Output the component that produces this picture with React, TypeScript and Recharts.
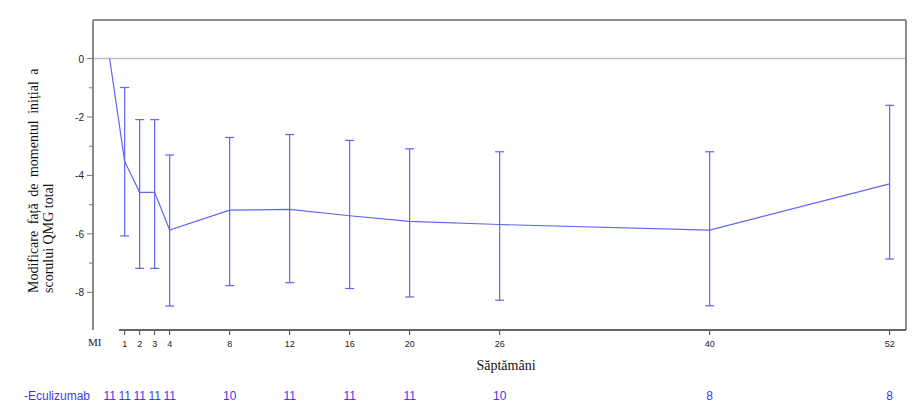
import { ComposedChart, Line, Scatter, ErrorBar, XAxis, YAxis, ReferenceLine } from "recharts"

const weeks = [0, 1, 2, 3, 4, 8, 12, 16, 20, 26, 40, 52]
const meanChange = [0, -3.52, -4.58, -4.58, -5.87, -5.19, -5.16, -5.38, -5.57, -5.68, -5.87, -4.29]
const lowerCI = [null, -6.07, -7.18, -7.18, -8.47, -7.77, -7.67, -7.87, -8.16, -8.27, -8.46, -6.86]
const upperCI = [null, -0.99, -2.09, -2.09, -3.3, -2.7, -2.6, -2.8, -3.09, -3.19, -3.19, -1.6]
const patientCounts = [11, 11, 11, 11, 11, 10, 11, 11, 11, 10, 8, 8]

const xTicks = [-1, 0, 1, 2, 3, 4, 8, 12, 16, 20, 26, 40, 52]
const yTicks = [1, 0, -1, -2, -3, -4, -5, -6, -7, -8, -9]
const yLabeled = [0, -2, -4, -6, -8]

const X_MIN = -1.11
const X_MAX = 53.09
const Y_MIN = -9.29
const Y_MAX = 1.32

const BLUE = "#6464f0"
const TEXT_BLUE = "#3a3af0"

const lineData = weeks.map((w, i) => ({ week: w, mean: meanChange[i] }))

const barData = weeks
  .map((w, i) => ({
    week: w,
    mean: meanChange[i],
    err: lowerCI[i] == null ? null : [meanChange[i] - (lowerCI[i] as number), (upperCI[i] as number) - meanChange[i]],
  }))
  .filter((d) => d.err != null)

function WeekTick(props: any) {
  const { x, y, payload } = props
  const v = payload.value
  const idx = weeks.indexOf(v)
  const count = idx >= 0 ? patientCounts[idx] : null
  return (
    <g>
      {v === -1 && (
        <text x={x} y={y + 16} textAnchor="middle" fontFamily="Liberation Serif, serif" fontSize={11} fill="#222">
          MI
        </text>
      )}
      {v > 0 && (
        <g>
          <line x1={x} y1={y + 1} x2={x} y2={y + 5} stroke="#444" />
          <text x={x} y={y + 17} textAnchor="middle" fontFamily="Liberation Sans, Arial, sans-serif" fontSize={9} fill="#222">
            {v}
          </text>
        </g>
      )}
      {count != null && (
        <text x={x} y={y + 70} textAnchor="middle" fontFamily="Liberation Sans, Arial, sans-serif" fontSize={12} fill={TEXT_BLUE}>
          {count}
        </text>
      )}
    </g>
  )
}

function ValueTick(props: any) {
  const { x, y, payload } = props
  const v = payload.value
  if (v > 0.5 || v < -8.5) return null
  const major = yLabeled.includes(v)
  return (
    <g>
      <line x1={x - (major ? 6 : 4)} y1={y} x2={x} y2={y} stroke="#777" />
      {major && (
        <text x={x - 9} y={y + 4} textAnchor="end" fontFamily="Liberation Sans, Arial, sans-serif" fontSize={10} fill="#222">
          {v}
        </text>
      )}
    </g>
  )
}

export default function App() {
  return (
    <div style={{ position: "absolute", left: 0, top: 0, width: 920, height: 417, background: "#fff" }}>
      <ComposedChart width={920} height={417} margin={{ top: 20, right: 14, bottom: 0, left: 0 }}>
        <XAxis
          dataKey="week"
          type="number"
          domain={[X_MIN, X_MAX]}
          allowDataOverflow
          ticks={xTicks}
          interval={0}
          axisLine={false}
          tickLine={false}
          tickSize={0}
          tickMargin={0}
          height={87}
          tick={<WeekTick />}
        />
        <YAxis
          type="number"
          domain={[Y_MIN, Y_MAX]}
          allowDataOverflow
          ticks={yTicks}
          interval={0}
          width={93}
          axisLine={{ stroke: "#8a8a8a", strokeWidth: 2 }}
          tickLine={false}
          tickSize={0}
          tickMargin={0}
          tick={<ValueTick />}
        />
        <ReferenceLine y={0} stroke="#bdbdbd" strokeWidth={1.5} />
        <ReferenceLine y={Y_MAX} stroke="#8a8a8a" strokeWidth={2} />
        <ReferenceLine x={X_MAX} stroke="#8a8a8a" strokeWidth={2} />
        <ReferenceLine
          segment={[
            { x: 0.62, y: Y_MIN },
            { x: X_MAX, y: Y_MIN },
          ]}
          stroke="#333"
          strokeWidth={1.5}
        />
        <Line
          data={lineData}
          dataKey="mean"
          stroke={BLUE}
          strokeWidth={1.2}
          dot={false}
          activeDot={false}
          isAnimationActive={false}
        />
        <Scatter data={barData} dataKey="mean" shape={() => <g />} isAnimationActive={false}>
          <ErrorBar dataKey="err" direction="y" width={4.5} stroke={BLUE} strokeWidth={1.2} />
        </Scatter>
      </ComposedChart>
      <svg width={920} height={417} style={{ position: "absolute", left: 0, top: 0, pointerEvents: "none" }}>
        <text
          transform="translate(38,293) rotate(-90)"
          fontFamily="Liberation Serif, serif"
          fontSize={14}
          fill="#111"
          style={{ wordSpacing: "3px" }}
        >
          Modificare față de momentul inițial a
        </text>
        <text transform="translate(53,293) rotate(-90)" fontFamily="Liberation Serif, serif" fontSize={14} fill="#111">
          scorului QMG total
        </text>
        <text x={506} y={370} textAnchor="middle" fontFamily="Liberation Serif, serif" fontSize={14} fill="#111">
          Săptămâni
        </text>
        <text x={24} y={400} fontFamily="Liberation Sans, Arial, sans-serif" fontSize={12} fill={TEXT_BLUE}>
          -Eculizumab
        </text>
      </svg>
    </div>
  )
}
